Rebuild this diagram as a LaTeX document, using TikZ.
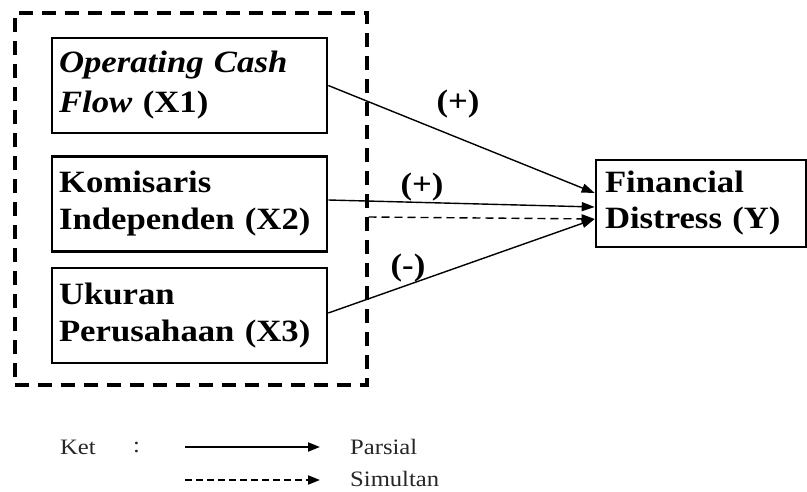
\documentclass[tikz,border=0pt]{standalone}
\usepackage{fontspec}
\setmainfont{Liberation Serif}[FakeStretch=1.12]
\usetikzlibrary{arrows.meta,calc}
\begin{document}
\begin{tikzpicture}[x=1pt,y=-1pt,
  varbox/.style={draw,line width=2.6pt,minimum width=275pt,minimum height=95pt,
    text width=261pt,align=left,inner xsep=7pt,inner ysep=0pt,
    font=\fontsize{31}{37}\selectfont\bfseries},
  lbl/.style={font=\fontsize{31}{37}\selectfont\bfseries,inner sep=0pt},
  legtext/.style={font=\fontsize{22}{26}\selectfont,text=black!85,inner sep=0pt,anchor=west},
  arr/.style={line width=1.4pt,-{Triangle[length=13pt,width=9pt]}},
  darr/.style={line width=1.4pt,dash pattern=on 8pt off 5pt,-{Triangle[length=13pt,width=9pt]}}
  ]
\useasboundingbox (0,0) rectangle (807,492);
% outer dashed group
\node[draw,line width=4pt,dash pattern=on 14pt off 9pt,minimum width=352pt,minimum height=372pt,inner sep=0pt] (grp) at (190.5,199) {};
\node[varbox,font=\fontsize{31}{40}\selectfont\bfseries] (x1) at (189.5,85.5) {\textit{Operating Cash}\\\textit{Flow} (X1)};
\node[varbox] (x2) at (189.5,204) {Komisaris\\Independen (X2)};
\node[varbox] (x3) at (189.5,315.5) {Ukuran\\Perusahaan (X3)};
\node[draw,line width=2.6pt,minimum width=210pt,minimum height=87pt,text width=192pt,align=left,
  inner xsep=9pt,inner ysep=0pt,font=\fontsize{31}{36}\selectfont\bfseries] (y) at (701,203.5) {Financial\\Distress (Y)};
% connectors
\draw[arr] (x1.east) -- ($(y.west)+(0,-10.5)$);
\draw[arr] ($(x2.east)+(0,-4)$) -- ($(y.west)+(0,3.5)$);
\draw[darr] ($(grp.east)+(0,18)$) -- ($(y.west)+(0,15.5)$);
\draw[arr] ($(x3.east)+(0,-2.5)$) -- ($(y.west)+(0,15.5)$);
% labels
\node[lbl] (l1) at (458,104) {(+)};
\node[lbl] (l2) at (422,187) {(+)};
\node[lbl] (l3) at (408,268) {(-)};
% legend
\node[legtext] (ket) at (60,447) {Ket};
\node[legtext] (colon) at (133,447) {:};
\coordinate (s1) at (185,447);
\coordinate (s2) at (320,447);
\coordinate (d1) at (185,480);
\coordinate (d2) at (320,480);
\draw[line width=2pt,-{Triangle[length=12pt,width=9pt]}] (s1) -- (s2);
\draw[line width=2pt,dash pattern=on 7pt off 4pt,-{Triangle[length=12pt,width=9pt]}] (d1) -- (d2);
\node[legtext] (pars) at (350,447) {Parsial};
\node[legtext] (sim) at (350,479) {Simultan};
\end{tikzpicture}
\end{document}
